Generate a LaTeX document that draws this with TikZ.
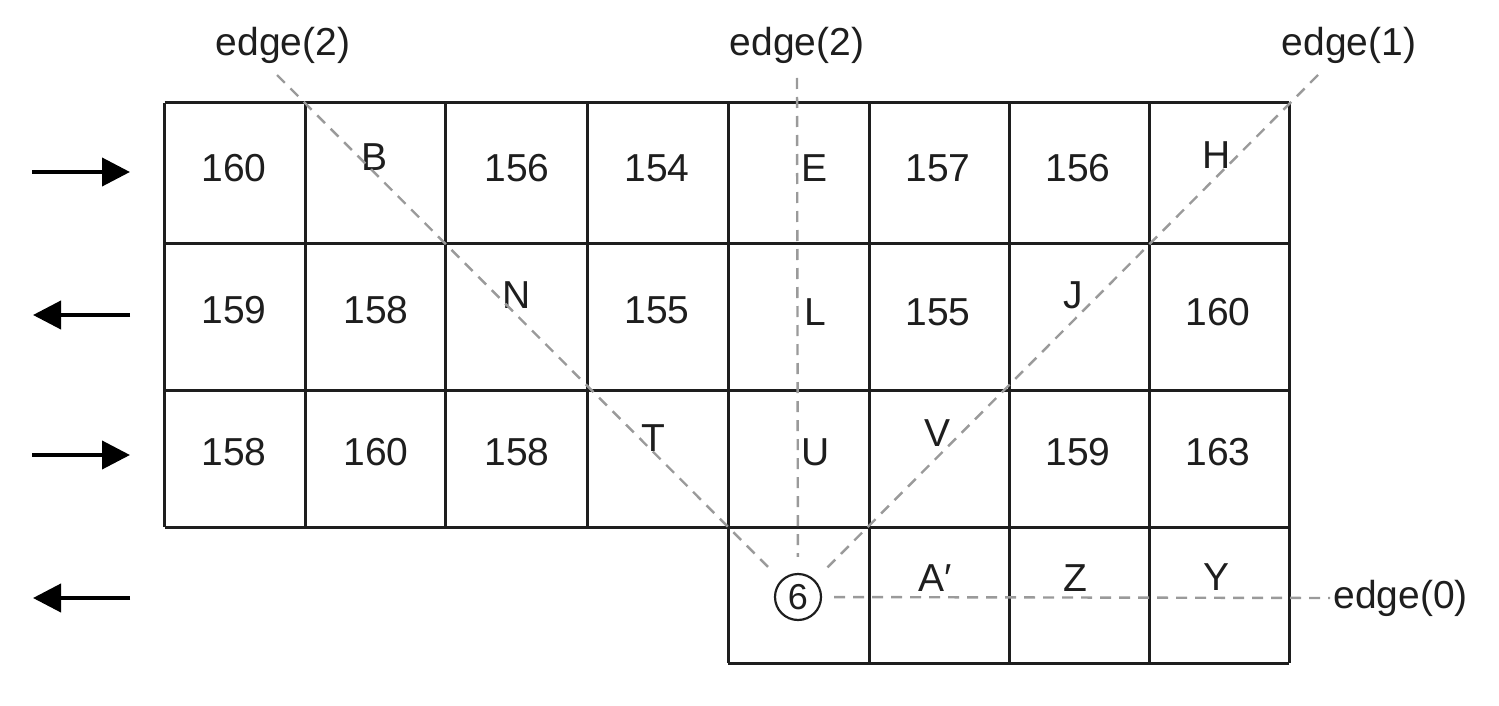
\documentclass[tikz,border=0pt]{standalone}
\usepackage{fontspec}
\setmainfont{Liberation Sans}
\usetikzlibrary{arrows.meta}
\definecolor{ink}{HTML}{1E1E1E}
\definecolor{dashgray}{HTML}{9A9A9A}
\begin{document}
\begin{tikzpicture}[x=0.5pt,y=-0.5pt,
  gridline/.style={draw=ink,line width=1.5pt},
  cell/.style={text=ink,font=\fontsize{19.5pt}{22pt}\selectfont,inner sep=0pt,anchor=center},
  edgelabel/.style={text=ink,font=\fontsize{19.5pt}{22pt}\selectfont,inner sep=0pt},
  guide/.style={draw=dashgray,line width=1.2pt,dash pattern=on 5.5pt off 4pt},
  dirarrow/.style={draw=black,line width=2pt,-{Triangle[length=14pt,width=14pt]}},
  circnum/.style={circle,draw=ink,line width=1.1pt,minimum size=23pt,inner sep=0pt,text=ink,font=\fontsize{18pt}{20pt}\selectfont}
]
\useasboundingbox (0,0) rectangle (1499,706);
% grid
\foreach \yy in {103,243,390,527}{\draw[gridline] (164.5,\yy) -- (1289,\yy);}
\draw[gridline] (728,663) -- (1289,663);
\foreach \xx in {164.5,305,445.5,587}{\draw[gridline] (\xx,103) -- (\xx,527);}
\foreach \xx in {728,869,1009,1149,1289}{\draw[gridline] (\xx,103) -- (\xx,663);}
% row 1
\node[cell] (r1c1) at (234,168) {160};
\node[cell] (r1c2) at (375,157) {B};
\node[cell] (r1c3) at (517,168) {156};
\node[cell] (r1c4) at (657,168) {154};
\node[cell] (r1c5) at (814,168) {E};
\node[cell] (r1c6) at (938,168) {157};
\node[cell] (r1c7) at (1078,168) {156};
\node[cell] (r1c8) at (1217,155) {H};
% row 2
\node[cell] (r2c1) at (234,310) {159};
\node[cell] (r2c2) at (376,310) {158};
\node[cell] (r2c3) at (517,295) {N};
\node[cell] (r2c4) at (657,310) {155};
\node[cell] (r2c5) at (815,312) {L};
\node[cell] (r2c6) at (938,312) {155};
\node[cell] (r2c7) at (1073,295) {J};
\node[cell] (r2c8) at (1218,312) {160};
% row 3
\node[cell] (r3c1) at (234,452) {158};
\node[cell] (r3c2) at (376,452) {160};
\node[cell] (r3c3) at (517,452) {158};
\node[cell] (r3c4) at (653,438) {T};
\node[cell] (r3c5) at (816,452) {U};
\node[cell] (r3c6) at (937,433) {V};
\node[cell] (r3c7) at (1078,452) {159};
\node[cell] (r3c8) at (1218,452) {163};
% row 4
\node[circnum] (c6) at (798,597) {6};
\node[cell] (r4c6) at (935,578) {A′};
\node[cell] (r4c7) at (1075,578) {Z};
\node[cell] (r4c8) at (1216,577) {Y};
% edge labels
\node[edgelabel] (lab2a) at (283,45) {edge(2)};
\node[edgelabel] (lab2b) at (797,45) {edge(2)};
\node[edgelabel] (lab1) at (1349,45) {edge(1)};
\node[edgelabel,anchor=west] (lab0) at (1333,598) {edge(0)};
% guide line ends
\coordinate (g2a) at (277,75);
\coordinate (g2b) at (797,78);
\coordinate (g1) at (1318,75);
\coordinate (g0) at (1330,598);
\draw[guide,shorten >=8pt] (g2a) -- (c6);
\draw[guide,shorten >=8pt] (g2b) -- (c6);
\draw[guide,shorten >=8pt] (g1) -- (c6);
\draw[guide,shorten <=6pt] (c6) -- (g0);
% direction arrows
\coordinate (a1s) at (32,172);  \coordinate (a1e) at (130,172);
\coordinate (a2s) at (130,315); \coordinate (a2e) at (33,315);
\coordinate (a3s) at (32,455);  \coordinate (a3e) at (130,455);
\coordinate (a4s) at (130,598); \coordinate (a4e) at (33,598);
\draw[dirarrow] (a1s) -- (a1e);
\draw[dirarrow] (a2s) -- (a2e);
\draw[dirarrow] (a3s) -- (a3e);
\draw[dirarrow] (a4s) -- (a4e);
\end{tikzpicture}
\end{document}
